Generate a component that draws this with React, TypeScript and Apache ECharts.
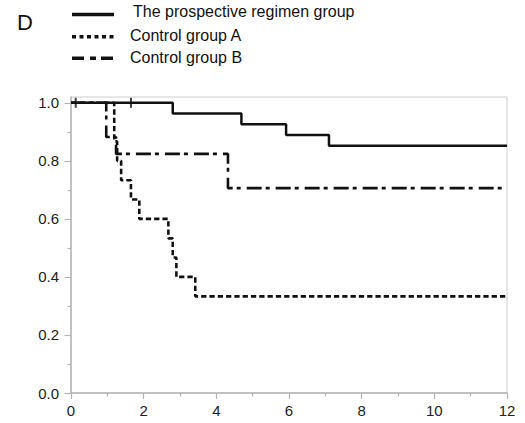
import React, { useEffect, useRef } from "react";
import * as echarts from "echarts";

// Kaplan–Meier step data (time in months, survival proportion)
const prospectiveTimes = [0, 2.8, 4.69, 5.92, 7.1, 12];
const prospectiveSurv = [1, 0.963, 0.926, 0.889, 0.852, 0.852];
const prospectiveCensorTimes = [0.13, 1.65];
const prospectiveCensorSurv = [1, 1];

const controlATimes = [0, 1.19, 1.27, 1.38, 1.65, 1.88, 2.68, 2.8, 2.9, 3.42, 12];
const controlASurv = [1, 0.867, 0.8, 0.733, 0.667, 0.6, 0.533, 0.467, 0.4, 0.333, 0.333];

const controlBTimes = [0, 0.97, 1.24, 4.32, 12];
const controlBSurv = [1, 0.882, 0.824, 0.706, 0.706];

const seriesNames = ["The prospective regimen group", "Control group A", "Control group B"];
const panelLabel = "D";

const yMajorTicks = [0, 0.2, 0.4, 0.6, 0.8, 1.0];
const yMinorTicks = [0.1, 0.3, 0.5, 0.7, 0.9];
const xMin = 0;
const xMax = 12;
const xInterval = 2;

const FONT = '"Liberation Sans", Arial, sans-serif';
const INK = "#111";
const AXIS = "#b4b4b4";

const zip = (xs: number[], ys: number[]) => xs.map((x, i) => [x, ys[i]]);

export default function App() {
  const ref = useRef<HTMLDivElement>(null);

  useEffect(() => {
    if (!ref.current) return;
    const chart = echarts.init(ref.current, undefined, { renderer: "svg" });

    const legendRows = [
      { y: 14.5, textY: 11.8, textX: 133, dash: null as number[] | null },
      { y: 36.7, textY: 35.2, textX: 130, dash: [4, 3.5] },
      { y: 58.3, textY: 57.8, textX: 130, dash: [12, 6, 6, 5] },
    ];

    const graphic: any[] = [
      {
        type: "text",
        x: 17,
        y: 22,
        style: { text: panelLabel, font: `22px ${FONT}`, fill: INK, verticalAlign: "middle" },
      },
    ];
    legendRows.forEach((r, i) => {
      graphic.push({
        type: "line",
        shape: { x1: 72, y1: r.y, x2: 114, y2: r.y },
        style: { stroke: INK, lineWidth: 3.5, lineDash: r.dash || undefined },
      });
      graphic.push({
        type: "text",
        x: r.textX,
        y: r.textY,
        style: { text: seriesNames[i], font: `16px ${FONT}`, fill: INK, verticalAlign: "middle" },
      });
    });

    const option: any = {
      animation: false,
      backgroundColor: "#fff",
      grid: {
        left: 71,
        right: 18,
        top: 97,
        bottom: 30,
        show: true,
        borderColor: "#cdcdcd",
        borderWidth: 1,
        containLabel: false,
      },
      xAxis: {
        type: "value",
        min: xMin,
        max: xMax,
        interval: xInterval,
        axisLine: { show: true, lineStyle: { color: AXIS, width: 1.5 } },
        axisTick: { show: true, length: 6, lineStyle: { color: AXIS, width: 1.2 } },
        minorTick: { show: true, splitNumber: 2, length: 3.5, lineStyle: { color: AXIS, width: 1.2 } },
        splitLine: { show: false },
        axisLabel: { margin: 10, fontSize: 15, fontFamily: FONT, color: "#222" },
      },
      yAxis: [
        {
          type: "value",
          min: 0,
          max: 1.02,
          axisLine: { show: true, lineStyle: { color: AXIS, width: 1.5 } },
          axisTick: {
            show: true,
            length: 6.5,
            customValues: yMajorTicks,
            lineStyle: { color: AXIS, width: 1.2 },
          },
          splitLine: { show: false },
          axisLabel: {
            margin: 12,
            fontSize: 15,
            fontFamily: FONT,
            color: "#222",
            customValues: yMajorTicks,
            formatter: (v: number) => v.toFixed(1),
          },
        },
        {
          type: "value",
          min: 0,
          max: 1.02,
          position: "left",
          axisLine: { show: false },
          axisTick: {
            show: true,
            length: 3.5,
            customValues: yMinorTicks,
            lineStyle: { color: AXIS, width: 1.2 },
          },
          splitLine: { show: false },
          axisLabel: { show: false },
        },
      ],
      series: [
        {
          name: seriesNames[0],
          type: "line",
          step: "end",
          symbol: "none",
          data: zip(prospectiveTimes, prospectiveSurv),
          lineStyle: { color: INK, width: 2.5, type: "solid" },
          z: 5,
        },
        {
          name: seriesNames[0] + " censored",
          type: "scatter",
          symbol: "rect",
          symbolSize: [2, 10],
          data: zip(prospectiveCensorTimes, prospectiveCensorSurv),
          itemStyle: { color: INK },
          z: 6,
        },
        {
          name: seriesNames[1],
          type: "line",
          step: "end",
          symbol: "none",
          data: zip(controlATimes, controlASurv),
          lineStyle: { color: INK, width: 2.6, type: [5.3, 3] },
          z: 4,
        },
        {
          name: seriesNames[2],
          type: "line",
          step: "end",
          symbol: "none",
          data: zip(controlBTimes, controlBSurv),
          lineStyle: { color: INK, width: 2.6, type: [15, 4, 4, 6] },
          z: 4,
        },
      ],
      graphic,
    };

    chart.setOption(option);
    return () => chart.dispose();
  }, []);

  return (
    <div
      ref={ref}
      style={{ position: "fixed", left: 0, top: 0, width: 525, height: 423, background: "#fff" }}
    />
  );
}
